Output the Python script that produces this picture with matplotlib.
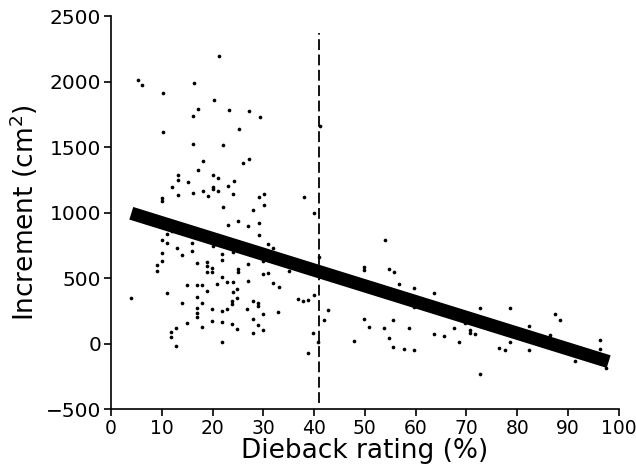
import matplotlib
matplotlib.use("Agg")
import matplotlib.pyplot as plt

# Scatter data: dieback rating (%) vs increment (cm2)
dieback = [5.3, 6.2, 10.3, 16.3, 21.3, 20.2, 17.1, 16.2, 23.2, 27.2, 29.3, 25.2, 10.3, 16.1,
           22.1, 18.1, 26.0, 27.1, 17.1, 13.1, 13.1, 20.1, 21.1, 15.1, 24.2, 12.1, 23.1, 20.1,
           20.1, 13.1, 16.1, 18.1, 19.1, 21.1, 24.1, 10.0, 10.0, 29.1, 30.1, 22.0, 28.0, 30.1,
           38.1, 40.0, 41.1,
           3.9, 23.0, 25.0, 27.0, 29.1, 29.1, 20.9, 11.0, 10.0, 11.0, 12.1, 13.0, 14.0, 16.0,
           16.0, 10.0, 10.0, 9.0, 9.0, 16.9, 19.0, 19.0, 19.0, 19.9, 19.9, 20.0, 21.9, 21.9,
           24.0, 27.0, 25.0, 25.0, 30.0, 31.0, 32.0, 30.0, 31.0, 21.9, 22.9, 24.0, 26.9, 20.9,
           15.0, 16.9, 18.0, 31.9, 33.0, 35.0, 18.9, 24.9, 24.0, 11.0, 16.9, 13.9, 17.9, 23.9,
           23.9, 24.9, 27.9, 28.9, 28.9, 19.9, 21.9, 22.8, 26.8, 29.9, 32.9, 16.9, 16.9, 16.9,
           15.0, 17.9, 19.9, 21.9, 23.8, 24.9, 27.9, 28.9, 29.9, 27.9, 21.9, 12.9, 11.9, 11.9,
           12.9, 36.8, 37.9, 38.8, 39.9, 42.8, 41.9, 39.8, 40.8, 38.8, 47.8, 41.0,
           49.8, 49.8, 49.8, 50.8, 53.9, 54.8, 55.7, 56.8, 53.7, 54.7, 55.6, 55.6, 57.6, 58.6,
           59.6, 59.6, 59.6, 63.7, 63.6, 65.6, 67.6, 68.6, 69.7, 70.6, 70.6, 71.7, 72.6, 72.6,
           76.5, 77.5, 78.5, 78.5, 82.4, 82.4, 83.5, 86.4, 87.4, 88.5, 91.4, 96.3, 96.3, 97.4]
increment = [2015, 1977, 1916, 1987, 2198, 1862, 1789, 1738, 1784, 1779, 1733, 1636, 1616, 1527,
             1519, 1392, 1379, 1412, 1326, 1285, 1247, 1285, 1267, 1231, 1244, 1193, 1201, 1195,
             1183, 1132, 1153, 1168, 1125, 1168, 1145, 1112, 1089, 1122, 1143, 1041, 1023, 1056,
             1117, 995, 1664,
             351, 906, 934, 896, 921, 832, 830, 840, 789, 769, 863, 733, 674, 769,
             705, 689, 628, 603, 552, 616, 621, 593, 544, 578, 544, 746, 682, 641,
             697, 605, 573, 544, 631, 763, 733, 532, 542, 511, 473, 473, 481, 453,
             448, 448, 448, 466, 430, 557, 405, 415, 392, 384, 359, 313, 311, 328,
             303, 346, 328, 311, 285, 267, 250, 265, 265, 227, 239, 275, 233, 201,
             160, 130, 176, 166, 153, 112, 191, 145, 102, 79, 10, 120, 89, 48,
             -18, 341, 323, 334, 369, 257, 178, 82, 10, -71, 23, 659,
             582, 562, 188, 125, 794, 573, 550, 453, 122, 43, 183, -25, -43, 122,
             -51, 427, 282, 384, 76, 56, 117, 15, 155, 105, 79, 71, 275, -234,
             -33, -51, 275, 13, 132, -46, 56, 63, 224, 183, -135, 25, -43, -186]

# Regression line
fit_x = [4, 98]
intercept = 1043
slope = -12.05
fit_y = [intercept + slope * v for v in fit_x]

# Threshold line
threshold_x = 41
threshold_y = [-455, 2370]

x_ticks = list(range(0, 101, 10))
y_ticks = list(range(-500, 2501, 500))

fig = plt.figure(figsize=(6.36, 4.74), dpi=100)
ax = fig.add_axes([0.1745, 0.137, 0.7985, 0.829])

ax.scatter(dieback, increment, s=7, color="black", linewidths=0, zorder=3)
ax.plot(fit_x, fit_y, color="black", linewidth=9.5, solid_capstyle="butt", zorder=4)
ax.plot([threshold_x, threshold_x], threshold_y, color="black", linewidth=1.3,
        dashes=(6, 2.5), zorder=2)

ax.set_xlim(0, 100)
ax.set_ylim(-500, 2500)
ax.set_xticks(x_ticks)
ax.set_yticks(y_ticks)
ax.set_xticklabels([str(t) for t in x_ticks])
ax.set_yticklabels([str(t).replace("-", "\u2212") for t in y_ticks])

for side in ("top", "right"):
    ax.spines[side].set_visible(False)
for side in ("left", "bottom"):
    ax.spines[side].set_linewidth(1.2)

ax.tick_params(axis="both", direction="out", length=5, width=1.2, pad=2)
ax.tick_params(axis="y", labelsize=14.5)
ax.tick_params(axis="x", labelsize=13.5)
ax.set_xlabel("Dieback rating (%)", fontsize=19, labelpad=0)
ax.set_ylabel("Increment (cm$^{\\mathregular{2}}$)", fontsize=19, labelpad=4)

fig.savefig("out.png", dpi=100)
